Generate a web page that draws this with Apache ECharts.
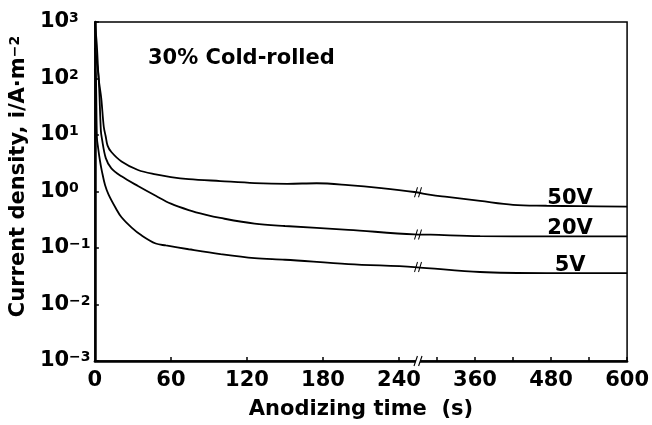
<!DOCTYPE html>
<html><head><meta charset="utf-8">
<script src="https://cdn.jsdelivr.net/npm/echarts@6/dist/echarts.min.js"></script>
<style>html,body{margin:0;padding:0;background:#fff}#c{width:652px;height:425px}</style>
</head><body><div id="c"></div>
<script>
// ---- data ----
const seriesNames = ['50V', '20V', '5V'];
const time50V = [0, 1.5, 3, 5, 7, 8.5, 10, 13, 21, 34, 48, 60, 74, 99, 126, 152, 175, 200, 226, 252, 290, 316, 368, 420, 473, 525, 600];
const current50V = [1000, 400, 100, 45, 14, 9.5, 6.5, 5.0, 3.4, 2.4, 2.0, 1.8, 1.66, 1.53, 1.41, 1.37, 1.40, 1.30, 1.15, 0.98, 0.87, 0.80, 0.68, 0.58, 0.56, 0.55, 0.54];
const time20V = [0, 1.5, 3, 4.7, 5.5, 8.6, 13, 21, 34, 48, 60, 74, 87, 99, 126, 150, 200, 252, 290, 368, 473, 600];
const current20V = [350, 200, 100, 12, 8.7, 3.9, 2.57, 1.86, 1.25, 0.84, 0.61, 0.47, 0.39, 0.34, 0.27, 0.245, 0.21, 0.174, 0.172, 0.162, 0.16, 0.16];
const time5V = [0, 0.8, 1.6, 2.5, 4, 5.5, 8, 10.9, 16.4, 21, 29, 37, 48, 56, 74, 99, 126, 150, 200, 252, 368, 473, 600];
const current5V = [150, 100, 9, 6, 3.5, 2.3, 1.3, 0.87, 0.51, 0.35, 0.23, 0.166, 0.12, 0.111, 0.095, 0.078, 0.066, 0.062, 0.052, 0.046, 0.0376, 0.036, 0.036];
const xLabelTimes = [0, 60, 120, 180, 240, 360, 480, 600];
const xTickTimes = [60, 120, 180, 240, 300, 360, 420, 480, 540, 600];
const yTickValues = [0.001, 0.01, 0.1, 1, 10, 100, 1000];
const labelTime = 510;
const labelValues = [0.55, 0.16, 0.036];
const breakLinearEnd = 255, breakResume = 270;
const breakValues = [0.97, 0.173, 0.046];
const titleText = '30% Cold-rolled';

// ---- broken time axis: linear to the break, half scale after it ----
function toAxis(t) { return t <= breakLinearEnd ? t : breakLinearEnd + (t - breakResume) / 2; }
function fromAxis(u) { return u <= breakLinearEnd ? u : breakResume + (u - breakLinearEnd) * 2; }

const FONT = 'DejaVu Sans';
const txt = { fontFamily: FONT, fontWeight: 'bold', fontSize: 21, color: '#000' };
const times = [time50V, time20V, time5V];
const currents = [current50V, current20V, current5V];

const slashPath = 'path://M0,10L3,0M4,10L7,0';
const gapPath = 'path://M0,10L3,0L7,0L4,10Z';

const series = seriesNames.map((name, k) => {
  const marks = [
    { coord: [toAxis(labelTime), labelValues[k]], name: name, symbol: 'circle', symbolSize: 1,
      itemStyle: { color: 'rgba(0,0,0,0)' },
      label: Object.assign({ show: true, position: 'top', distance: -3, formatter: '{b}' }, txt) },
    { coord: [breakLinearEnd, breakValues[k]], symbol: slashPath, symbolSize: [7, 10],
      itemStyle: { color: 'none', borderColor: '#000', borderWidth: 1.2 }, label: { show: false } }
  ];
  if (k === seriesNames.length - 1) {
    marks.push({ coord: [breakLinearEnd, yTickValues[0]], symbol: gapPath, symbolSize: [8, 10],
      itemStyle: { color: '#fff', borderWidth: 0 }, label: { show: false } });
    marks.push({ coord: [breakLinearEnd, yTickValues[0]], symbol: slashPath, symbolSize: [8, 10],
      itemStyle: { color: 'none', borderColor: '#000', borderWidth: 1.3 }, label: { show: false } });
  }
  return {
    name: name, type: 'line', showSymbol: false, smooth: 0.35,
    lineStyle: { color: '#000', width: 1.8 }, itemStyle: { color: '#000' },
    data: times[k].map((t, i) => [toAxis(t), currents[k][i]]),
    markPoint: { silent: true, animation: false, data: marks },
    animation: false
  };
});

const chart = echarts.init(document.getElementById('c'), null, { renderer: 'canvas' });
chart.setOption({
  backgroundColor: '#fff',
  animation: false,
  title: { text: titleText, left: 148, top: 48, padding: 0, textStyle: txt },
  grid: { left: 90, right: 24, top: 22, bottom: 60, show: true, borderColor: '#000', borderWidth: 1.5 },
  xAxis: {
    type: 'value', min: 0, max: toAxis(600),
    name: 'Anodizing time  (s)', nameLocation: 'middle', nameGap: 38, nameTextStyle: txt,
    axisLine: { onZero: false, lineStyle: { color: '#000', width: 2.5 } },
    axisTick: { inside: true, length: 4, lineStyle: { color: '#000', width: 1.5 }, customValues: xTickTimes.map(toAxis) },
    axisLabel: Object.assign({ margin: 9, customValues: xLabelTimes.map(toAxis),
      formatter: v => String(Math.round(fromAxis(v))) }, txt),
    splitLine: { show: false }
  },
  yAxis: {
    type: 'log', logBase: 10, min: 0.001, max: 1000,
    name: '{n|Current density, i/A·m}{s|−2}', nameLocation: 'middle', nameGap: 55,
    nameTextStyle: { padding: [0, 0, 0, 30], rich: {
      n: txt, s: { fontFamily: FONT, fontWeight: 'bold', fontSize: 14, color: '#000', verticalAlign: 'top' } } },
    axisLine: { lineStyle: { color: '#000', width: 2.5 } },
    axisTick: { inside: true, length: 4, lineStyle: { color: '#000', width: 1.5 }, customValues: yTickValues },
    axisLabel: { margin: 55, align: 'left', customValues: yTickValues,
      formatter: v => { const e = Math.round(Math.log10(v)); return '{b|10}{s|' + (e < 0 ? '−' + (-e) : e) + '}'; },
      rich: { b: txt, s: { fontFamily: FONT, fontWeight: 'bold', fontSize: 14, color: '#000', verticalAlign: 'top' } } },
    splitLine: { show: false }
  },
  series: series
});
</script></body></html>
